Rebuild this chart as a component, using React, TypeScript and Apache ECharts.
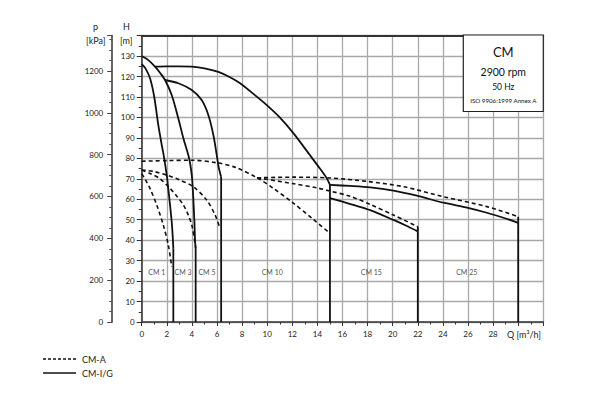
import React, { useEffect, useRef } from "react";
import * as echarts from "echarts";

// ---- data (Q [m3/h], H [m]) ----
const cm1Solid = [[0, 126], [0.3, 124], [0.67, 119], [1.0, 110], [1.33, 96], [1.6, 86.5], [1.78, 80.5], [2.0, 71.5], [2.12, 65], [2.26, 57], [2.39, 49], [2.47, 42], [2.52, 36], [2.52, 0]];
const cm3Solid = [[0, 130], [0.53, 128], [1.06, 124.8], [1.5, 121.5], [1.86, 118.3], [2.39, 111], [2.92, 99.5], [3.32, 89.8], [3.76, 80.5], [3.99, 71.8], [4.08, 64], [4.2, 49], [4.25, 40], [4.3, 36], [4.3, 0]];
const cm5Solid = [[1.86, 118.3], [2.92, 116.7], [3.99, 113.4], [4.78, 108.5], [5.31, 101.2], [5.71, 91.4], [5.98, 81.6], [6.12, 76], [6.24, 73], [6.33, 71], [6.33, 0]];
const cm10Solid = [[1.06, 124.8], [2, 125], [3, 125], [3.99, 124.8], [5, 124], [6.1, 122.3], [7, 119.8], [7.84, 116.7], [9, 111], [9.97, 106], [11, 100], [12.1, 92.2], [13.4, 81.6], [14.2, 75], [14.75, 70.2], [15, 67], [15, 0]];
const cm15Solid = [[15, 60.5], [16, 58.8], [17, 57], [18.2, 54.7], [20.06, 49.9], [21, 47.3], [22, 44.3], [22, 0]];
const cm25Solid = [[15, 67], [16.6, 66.5], [18.2, 65.8], [20.06, 64.2], [22, 61.6], [24.05, 58.3], [26, 55.8], [27.5, 53.4], [29, 50.6], [30, 48.5], [30, 0]];

const cm1Dashed = [[0, 72.5], [0.3, 69.5], [0.66, 65.3], [1.2, 57.2], [1.72, 47.4], [2.12, 37.6], [2.39, 27]];
const cm3Dashed = [[0, 74.3], [0.7, 72.5], [1.46, 70], [2.26, 65.3], [2.8, 61.5], [3.32, 57.2], [3.7, 52.5], [3.99, 47.4], [4.25, 38.5], [4.3, 36]];
const cm5Dashed = [[0, 74.3], [1, 73.5], [1.99, 71.8], [3, 69.5], [4.12, 66.1], [5.18, 59.6], [5.85, 52.3], [6.24, 45.8]];
const cm10Dashed = [[0, 78.6], [2, 78.9], [4, 79.1], [6, 77.8], [7.5, 75.5], [9.2, 70.5], [10.5, 65.3], [12, 58.5], [13.7, 50], [15, 43.4]];
const cm15Dashed = [[9.2, 70.5], [12, 67.7], [14, 65.5], [15, 64], [16.6, 61.5], [18.2, 57.5], [20.06, 52.3], [22, 46.6], [22, 44.3]];
const cm25Dashed = [[9.2, 70.5], [12, 70.8], [15, 70.4], [18, 68.7], [20.9, 66.1], [24, 61.3], [27.5, 56.4], [30, 51.5], [30, 48.5]];

const rangeLabels = ["CM 1", "CM 3", "CM 5", "CM 10", "CM 15", "CM 25"];
const rangeLabelQ = [1.2, 3.3, 5.2, 10.4, 18.3, 25.9];
const rangeLabelH = [24.5, 24.5, 24.5, 24.5, 24.5, 24.5];

const qTicks = { min: 0, max: 32, interval: 2 };
const hTicks = { min: 0, max: 140, interval: 10 };
const kPaPerMeter = 9.78;
const pTicks = { min: 0, interval: 200, lastLabel: 1200 };

const titleLines = ["CM", "2900 rpm", "50 Hz", "ISO 9906:1999 Annex A"];
const legendNames = ["CM-A", "CM-I/G"];

const FONT = "Lato, 'Open Sans', sans-serif";
const INK = "#111";

// split a curve into its smooth part and its trailing vertical drop (same Q)
function splitDrop(d: number[][]) {
  let k = d.length - 1;
  while (k > 0 && d[k][0] === d[k - 1][0]) k--;
  return { curve: d.slice(0, k + 1), drop: d.slice(k) };
}

export default function App() {
  const ref = useRef<HTMLDivElement>(null);

  useEffect(() => {
    if (!ref.current) return;
    const chart = echarts.init(ref.current, undefined, { renderer: "svg" });

    const mk = (d: number[][], dashed: boolean, i: number) => {
      const { curve, drop } = splitDrop(d);
      const lineStyle = dashed
        ? { color: INK, width: 1.6, type: [4, 3] as any }
        : { color: INK, width: 1.8, type: "solid" };
      const out: any[] = [
        {
          type: "line",
          name: (dashed ? "dashed" : "solid") + i,
          data: curve,
          showSymbol: false,
          symbol: "none",
          smooth: 0.3,
          lineStyle,
          z: 5,
        },
      ];
      if (drop.length > 1) {
        out.push({
          type: "line",
          name: (dashed ? "dashedDrop" : "solidDrop") + i,
          data: drop,
          showSymbol: false,
          symbol: "none",
          lineStyle: { color: INK, width: 1.8, type: "solid" },
          z: 5,
        });
      }
      return out;
    };

    const solidSeries = [cm1Solid, cm3Solid, cm5Solid, cm10Solid, cm15Solid, cm25Solid].flatMap((d, i) => mk(d, false, i));
    const dashedSeries = [cm1Dashed, cm3Dashed, cm5Dashed, cm10Dashed, cm15Dashed, cm25Dashed].flatMap((d, i) => mk(d, true, i));

    const axisLabelStyle = { fontFamily: FONT, fontSize: 8, color: "#222" };

    const option: any = {
      animation: false,
      backgroundColor: "#fff",
      grid: { left: 141.7, right: 48.7, top: 35.6, bottom: 80, containLabel: false },
      xAxis: [
        {
          type: "value",
          min: qTicks.min,
          max: qTicks.max,
          interval: qTicks.interval,
          axisLine: { show: true, onZero: false, lineStyle: { color: "#333", width: 1.5 } },
          axisTick: { show: true, inside: false, length: 4, lineStyle: { color: "#333", width: 1 } },
          minorTick: { show: true, splitNumber: 2, length: 2.5, lineStyle: { color: "#333", width: 1 } },
          axisLabel: {
            ...axisLabelStyle,
            margin: 8,
            formatter: (v: number) => (v >= 30 ? "" : String(v)),
          },
          splitLine: { show: true, lineStyle: { color: "#a9a9a9", width: 1.3 } },
        },
        {
          type: "value",
          position: "top",
          min: qTicks.min,
          max: qTicks.max,
          axisLine: { show: true, onZero: false, lineStyle: { color: "#333", width: 1.8 } },
          axisTick: { show: false },
          axisLabel: { show: false },
          splitLine: { show: false },
        },
      ],
      yAxis: [
        {
          type: "value",
          position: "left",
          min: hTicks.min,
          max: hTicks.max,
          interval: hTicks.interval,
          axisLine: { show: true, onZero: false, lineStyle: { color: "#333", width: 1.5 } },
          axisTick: { show: true, inside: false, length: 5, lineStyle: { color: "#333", width: 1 } },
          minorTick: { show: true, splitNumber: 2, length: 3, lineStyle: { color: "#333", width: 1 } },
          axisLabel: {
            ...axisLabelStyle,
            margin: 7,
            formatter: (v: number) => (v >= 140 ? "" : String(v)),
          },
          splitLine: { show: true, lineStyle: { color: "#a9a9a9", width: 1.3 } },
        },
        {
          type: "value",
          position: "left",
          offset: 29.5,
          min: pTicks.min,
          max: hTicks.max * kPaPerMeter,
          interval: pTicks.interval,
          axisLine: { show: true, onZero: false, lineStyle: { color: "#555", width: 1.8 } },
          axisTick: { show: true, inside: false, length: 5, lineStyle: { color: "#444", width: 1 } },
          minorTick: { show: true, splitNumber: 4, length: 3, lineStyle: { color: "#555", width: 1 } },
          axisLabel: {
            ...axisLabelStyle,
            margin: 9,
            formatter: (v: number) => (v % 200 !== 0 || v > pTicks.lastLabel ? "" : String(v)),
          },
          splitLine: { show: false },
        },
      ],
      series: [
        ...solidSeries,
        ...dashedSeries,
        {
          type: "scatter",
          name: "labels",
          data: rangeLabelQ.map((q, i) => ({ value: [q, rangeLabelH[i]], name: rangeLabels[i] })),
          symbolSize: 0,
          label: {
            show: true,
            position: "inside",
            formatter: (p: any) => p.name,
            fontFamily: FONT,
            fontSize: 7,
            color: "#222",
          },
          z: 6,
        },
      ],
      graphic: [
        { type: "text", left: 93, top: 22, style: { text: "p", font: `9px ${FONT}`, fill: "#222" } },
        { type: "text", left: 86, top: 36, style: { text: "[kPa]", font: `9px ${FONT}`, fill: "#222" } },
        { type: "text", left: 123, top: 22, style: { text: "H", font: `9px ${FONT}`, fill: "#222" } },
        { type: "text", left: 120, top: 36, style: { text: "[m]", font: `9px ${FONT}`, fill: "#222" } },
        { type: "text", left: 507, top: 330, style: { text: "Q [m³/h]", font: `9px ${FONT}`, fill: "#222" } },
        {
          type: "rect",
          shape: { x: 463.3, y: 35, width: 80, height: 76.5 },
          style: { fill: "#fff", stroke: "#222", lineWidth: 1.2 },
          z: 10,
        },
        { type: "text", x: 503.3, y: 52, z: 11, style: { text: titleLines[0], font: `13px ${FONT}`, fill: "#111", align: "center", verticalAlign: "middle" } },
        { type: "text", x: 503.3, y: 71.5, z: 11, style: { text: titleLines[1], font: `10.5px ${FONT}`, fill: "#111", align: "center", verticalAlign: "middle" } },
        { type: "text", x: 503.3, y: 86.5, z: 11, style: { text: titleLines[2], font: `8.5px ${FONT}`, fill: "#111", align: "center", verticalAlign: "middle" } },
        { type: "text", x: 503.3, y: 100, z: 11, style: { text: titleLines[3], font: `6.2px ${FONT}`, fill: "#111", align: "center", verticalAlign: "middle" } },
        { type: "line", shape: { x1: 43, y1: 359, x2: 76, y2: 359 }, style: { stroke: INK, lineWidth: 1.3, lineDash: [3, 2] } },
        { type: "text", x: 82, y: 359, style: { text: legendNames[0], font: `9px ${FONT}`, fill: "#222", verticalAlign: "middle" } },
        { type: "line", shape: { x1: 43, y1: 373, x2: 76, y2: 373 }, style: { stroke: INK, lineWidth: 1.5 } },
        { type: "text", x: 82, y: 373, style: { text: legendNames[1], font: `9px ${FONT}`, fill: "#222", verticalAlign: "middle" } },
      ],
    };

    chart.setOption(option);
    return () => chart.dispose();
  }, []);

  return (
    <div
      ref={ref}
      style={{ position: "fixed", left: 0, top: 0, width: 592, height: 402, background: "#fff" }}
    />
  );
}
